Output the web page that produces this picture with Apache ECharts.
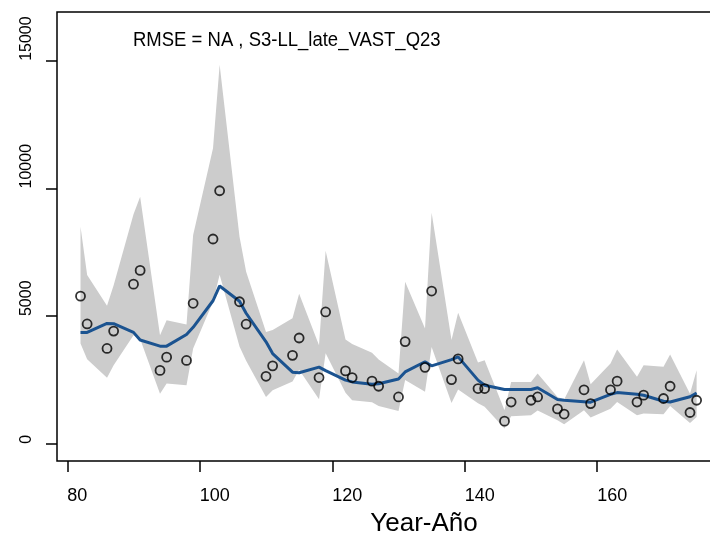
<!DOCTYPE html>
<html>
<head>
<meta charset="utf-8">
<script src="https://cdn.jsdelivr.net/npm/echarts@6.0.0/dist/echarts.min.js"></script>
<style>
html,body{margin:0;padding:0;background:#fff}
#grafico{width:710px;height:540px}
</style>
</head>
<body>
<div id="grafico"></div>
<script>
// tiempos con dato (dos trimestres por año)
var anios = [82,83,86,87,90,91,94,95,98,99,102,103,106,107,110,111,114,115,118,119,122,123,126,127,
             130,131,134,135,138,139,142,143,146,147,150,151,154,155,158,159,162,163,166,167,170,171,174,175];

// indice observado (circulos)
var observado = [5780,4690,3730,4410,6250,6790,2870,3390,3260,5500,8020,9910,5560,4680,2640,3050,3460,4140,2590,5160,2850,2590,2450,2250,
                 1830,4000,2990,5980,2510,3320,2160,2160,880,1630,1700,1830,1360,1160,2110,1570,2110,2450,1630,1900,1770,2250,1220,1700];

// indice estimado (linea azul)
var estimado = [4360,4360,4710,4700,4360,4060,3820,3820,4280,4560,5600,6180,5580,5110,3990,3530,2800,2780,3000,2860,2490,2420,2330,2350,
                2530,2810,3210,3050,3290,3400,2490,2290,2120,2120,2120,2190,1730,1700,1645,1625,1935,2000,1935,1895,1660,1635,1840,1986];

// intervalo (banda gris)
var bandaSup = [8500,6610,5400,6210,8990,9680,4250,4840,4670,8180,11580,14850,8110,6740,4380,4450,4910,5870,3860,7560,4080,3900,3560,3300,
                2750,6340,4510,9050,4060,5130,3180,3270,1310,2420,2420,2750,1830,1730,3270,2330,3140,3690,2620,3070,3010,3490,1960,2880];
var bandaInf = [3920,3310,2580,3070,4250,4100,1960,2360,2290,3730,5560,6620,3810,3250,1830,2090,2440,2900,1740,3540,1990,1700,1620,1480,
                1280,2490,2030,3790,1590,2120,1580,1450,590,1070,1110,1300,920,760,1310,1020,1370,1630,1110,1180,1150,1480,810,1045];

var ticksX = [80,100,120,140,160];
var ticksY = [0,5000,10000,15000];

var fuente = "'Liberation Sans', Arial, Helvetica, sans-serif";

var dom = document.getElementById("grafico");
var myChart = echarts.init(dom);

var datosObs = anios.map(function(a, i){ return [a, observado[i]]; });
var datosEst = anios.map(function(a, i){ return [a, estimado[i]]; });

option = {
	animation: false,
	backgroundColor: '#fff',
	grid: {
		left: 57, top: 12, right: -11, bottom: 79,
		show: true, borderColor: '#000', borderWidth: 1.5,
		backgroundColor: 'transparent',
		outerBoundsMode: 'none'
	},
	xAxis: {
		type: 'value', min: 78.45, max: 178.68,
		axisLine: {show: false, onZero: false},
		splitLine: {show: false},
		axisTick: {show: true, length: 11, customValues: ticksX, lineStyle: {color: '#000', width: 1.5}},
		axisLabel: {customValues: ticksX, align: 'left', margin: 26, fontSize: 18, color: '#000', fontFamily: fuente,
			formatter: function(v){ return String(v); }}
	},
	yAxis: {
		type: 'value', min: -680, max: 16915,
		axisLine: {show: false, onZero: false},
		splitLine: {show: false},
		axisTick: {show: true, length: 11, customValues: ticksY, lineStyle: {color: '#000', width: 1.5}},
		axisLabel: {customValues: ticksY, rotate: 90, align: 'left', verticalAlign: 'bottom', margin: 22,
			fontSize: 16, color: '#000', fontFamily: fuente,
			formatter: function(v){ return String(v); }}
	},
	graphic: [
		{
			type: 'text', x: 133, y: 40, scaleY: 1.12,
			style: {text: 'RMSE = NA , S3-LL_late_VAST_Q23', fontSize: 18.5, fontFamily: fuente, fill: '#000',
				align: 'left', verticalAlign: 'middle'}
		},
		{
			type: 'text', x: 424, y: 524,
			style: {text: 'Year-Año', fontSize: 26, fontFamily: fuente, fill: '#000',
				align: 'center', verticalAlign: 'middle'}
		}
	],
	series: [
		{
			name: 'banda',
			type: 'custom',
			silent: true,
			data: [[anios[0], bandaSup[0]]],
			encode: {x: 0, y: 1},
			renderItem: function(params, api){
				var pts = [];
				for (var i = 0; i < anios.length; i++) {
					pts.push(api.coord([anios[i], bandaSup[i]]));
				}
				for (var j = anios.length - 1; j >= 0; j--) {
					pts.push(api.coord([anios[j], bandaInf[j]]));
				}
				return {type: 'polygon', shape: {points: pts}, style: {fill: '#cccccc'}};
			},
			z: 1
		},
		{
			name: 'estimado',
			type: 'line',
			data: datosEst,
			symbol: 'none',
			lineStyle: {color: '#1b5390', width: 3},
			z: 2
		},
		{
			name: 'observado',
			type: 'scatter',
			data: datosObs,
			symbol: 'circle',
			symbolSize: 9,
			itemStyle: {color: 'transparent', borderColor: '#000', borderWidth: 1.8},
			z: 3
		}
	]
};

if (option && typeof option === "object") {
	myChart.setOption(option, true);
}
</script>
</body>
</html>
